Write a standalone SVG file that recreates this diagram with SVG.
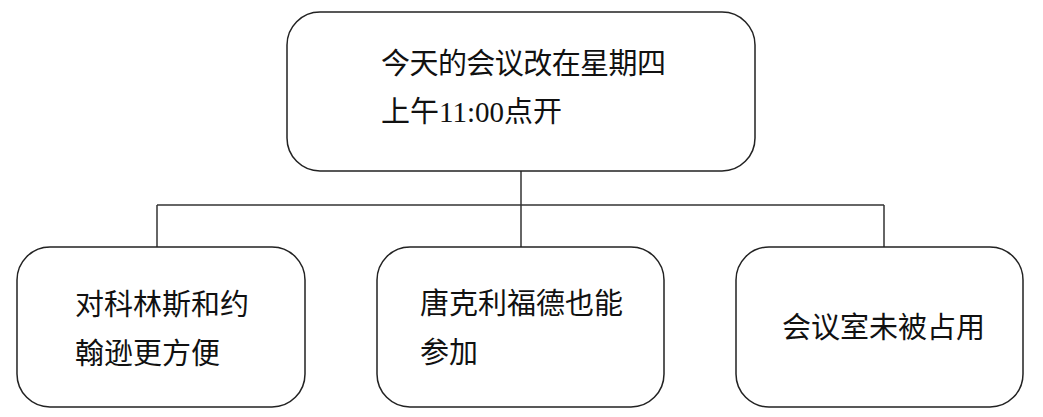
<svg xmlns="http://www.w3.org/2000/svg" width="1043" height="417" viewBox="0 0 1043 417">
  <style>
    .box { fill: #fff; stroke: #222; stroke-width: 1.5; }
    .wire { fill: none; stroke: #333; stroke-width: 1.5; }
    .lbl { font-family: "Noto Sans CJK SC", "Liberation Sans", sans-serif; font-size: 29px; fill: #111; }
    .num { font-family: "Liberation Serif", serif; }
  </style>
  <rect width="1043" height="417" fill="#fff"/>

  <!-- tree connectors -->
  <g id="connectors">
    <path class="wire" d="M521 171 V205"/>
    <path class="wire" d="M157 205 H884"/>
    <path class="wire" d="M157 205 V247"/>
    <path class="wire" d="M521 205 V247"/>
    <path class="wire" d="M884 205 V247"/>
  </g>

  <g id="root">
    <rect class="box" x="287" y="12" width="468" height="159" rx="33" ry="33"/>
    <text class="lbl" x="381" y="74" textLength="285" lengthAdjust="spacing">今天的会议改在星期四</text>
    <text class="lbl" x="381" y="122">上午<tspan class="num">11:00</tspan>点开</text>
  </g>

  <g id="node-left">
    <rect class="box" x="17" y="247" width="288" height="160" rx="33" ry="33"/>
    <text class="lbl" x="75" y="315">对科林斯和约</text>
    <text class="lbl" x="75" y="364">翰逊更方便</text>
  </g>

  <g id="node-middle">
    <rect class="box" x="377" y="247" width="287" height="160" rx="33" ry="33"/>
    <text class="lbl" x="420" y="314">唐克利福德也能</text>
    <text class="lbl" x="420" y="363">参加</text>
  </g>

  <g id="node-right">
    <rect class="box" x="736" y="247" width="287" height="160" rx="33" ry="33"/>
    <text class="lbl" x="782" y="338">会议室未被占用</text>
  </g>
</svg>
